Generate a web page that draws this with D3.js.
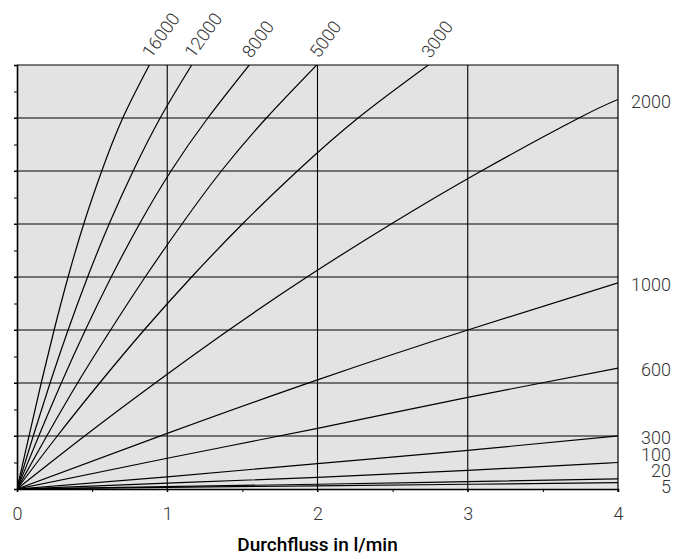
<!DOCTYPE html>
<html>
<head>
<meta charset="utf-8">
<script src="https://cdn.jsdelivr.net/npm/d3@7.9.0/dist/d3.min.js"></script>
<style>
  body { margin: 0; background: #fff; }
  svg { display: block; font-family: Roboto, "Noto Sans", sans-serif; }
</style>
</head>
<body>
<svg id="chart" width="688" height="559"></svg>
<script>
// curve labels (viscosity) and points: [flow l/min, y]
const labels = ['16000', '12000', '8000', '5000', '3000', '2000', '1000', '600', '300', '100', '20', '5'];

const c16000 = [[0, 0], [0.080, 1], [0.161, 2], [0.247, 3], [0.340, 4], [0.444, 5], [0.564, 6], [0.704, 7], [0.881, 8]];
const c12000 = [[0, 0], [0.108, 1], [0.220, 2], [0.340, 3], [0.470, 4], [0.613, 5], [0.773, 6], [0.953, 7], [1.163, 8]];
const c8000 = [[0, 0], [0.145, 1], [0.295, 2], [0.455, 3], [0.627, 4], [0.815, 5], [1.025, 6], [1.270, 7], [1.546, 8]];
const c5000 = [[0, 0], [0.198, 1], [0.403, 2], [0.623, 3], [0.853, 4], [1.098, 5], [1.360, 6], [1.660, 7], [1.995, 8]];
const c3000 = [[0, 0], [0.268, 1], [0.550, 2], [0.846, 3], [1.162, 4], [1.500, 5], [1.866, 6], [2.270, 7], [2.738, 8]];
const c2000 = [[0, 0], [0.45, 1], [0.92, 2], [1.41, 3], [1.93, 4], [2.49, 5], [3.09, 6], [3.74, 7], [4, 7.35]];
const c1000 = [[0, 0], [1, 1.05], [2, 2.06], [3, 3.0], [4, 3.89]];
const c600 = [[0, 0], [1, 0.58], [2, 1.145], [3, 1.73], [4, 2.28]];
const c300 = [[0, 0], [1, 0.23], [2, 0.48], [3, 0.73], [4, 1.0]];
const c100 = [[0, 0], [1, 0.11], [2, 0.22], [3, 0.35], [4, 0.50]];
const c20 = [[0, 0], [2, 0.09], [3, 0.14], [4, 0.19]];
const c5 = [[0, 0], [2, 0.06], [4, 0.12]];

const curves = [c16000, c12000, c8000, c5000, c3000, c2000, c1000, c600, c300, c100, c20, c5];

const xTicks = [0, 1, 2, 3, 4];
const xLabel = 'Durchfluss in l/min';

const width = 688, height = 559;
const plotLeft = 17, plotRight = 618, plotTop = 65, plotBottom = 489;

let x = d3.scaleLinear().domain([0, 4]).range([plotLeft, plotRight]);
let y = d3.scaleLinear().domain([0, 8]).range([plotBottom, plotTop]);

let svg = d3.select('#chart');

svg.append('defs').append('clipPath').attr('id', 'plot')
  .append('rect')
  .attr('x', plotLeft).attr('y', plotTop)
  .attr('width', plotRight - plotLeft).attr('height', plotBottom - plotTop);

// background
svg.append('rect')
  .attr('x', plotLeft).attr('y', plotTop)
  .attr('width', plotRight - plotLeft).attr('height', plotBottom - plotTop)
  .attr('fill', '#e3e3e3');

// grid
svg.append('g').selectAll('line')
  .data(d3.range(1, 8))
  .join('line')
  .attr('x1', plotLeft - 3).attr('x2', plotRight)
  .attr('y1', (d) => y(d)).attr('y2', (d) => y(d))
  .attr('stroke', '#000').attr('stroke-width', 1.1);

svg.append('g').selectAll('line')
  .data([1, 2, 3])
  .join('line')
  .attr('x1', (d) => x(d)).attr('x2', (d) => x(d))
  .attr('y1', plotTop).attr('y2', plotBottom + 3)
  .attr('stroke', '#000').attr('stroke-width', 1.1);

// axes
let yAxis = svg.append('g')
  .attr('transform', `translate(${plotLeft},0)`)
  .call(d3.axisLeft(y).tickValues(d3.range(0, 8.5, 0.5)).tickSize(3).tickFormat(''));
yAxis.select('.domain').attr('stroke-width', 1.6);

let xAxis = svg.append('g')
  .attr('transform', `translate(0,${plotBottom})`)
  .call(d3.axisBottom(x)
    .tickValues(d3.range(0, 4.5, 0.5))
    .tickSize(3)
    .tickPadding(15)
    .tickFormat((d) => (xTicks.includes(d) ? d : '')));
xAxis.select('.domain').attr('stroke-width', 1.6);
xAxis.selectAll('text')
  .attr('font-size', 18).attr('font-weight', 300)
  .attr('font-family', 'Roboto').attr('fill', '#333');

// top and right frame
svg.append('path')
  .attr('d', `M${plotLeft},${plotTop}H${plotRight}V${plotBottom + 3}`)
  .attr('fill', 'none').attr('stroke', '#000').attr('stroke-width', 1.2);

// curves
let line = d3.line()
  .x((d) => x(d[0]))
  .y((d) => y(d[1]))
  .curve(d3.curveNatural);

svg.append('g').attr('clip-path', 'url(#plot)')
  .selectAll('path')
  .data(curves)
  .join('path')
  .attr('d', line)
  .attr('fill', 'none')
  .attr('stroke', '#000')
  .attr('stroke-width', 1.2);

// labels on top (rotated) for curves that leave through the top
curves.forEach((c, i) => {
  let end = c[c.length - 1];
  if (end[1] >= 8) {
    svg.append('text')
      .attr('transform', `translate(${x(end[0]) + 2},${plotTop - 6}) rotate(-54)`)
      .attr('font-size', 18).attr('font-weight', 300)
      .attr('fill', '#333')
      .text(labels[i]);
  }
});

// labels on the right, pushed apart where they crowd
let rightLabels = [];
curves.forEach((c, i) => {
  let end = c[c.length - 1];
  if (end[1] < 8) rightLabels.push({ label: labels[i], y: y(end[1]) + 2 });
});
rightLabels.sort((a, b) => a.y - b.y);
for (let iter = 0; iter < 300; iter++) {
  for (let k = 1; k < rightLabels.length; k++) {
    let a = rightLabels[k - 1], b = rightLabels[k];
    let gap = b.y - a.y;
    if (gap < 16) {
      let push = (16 - gap) / 2;
      a.y -= push;
      b.y += push;
    }
  }
  rightLabels.forEach((d) => { d.y = Math.min(d.y, plotBottom - 2); });
}

svg.append('g').selectAll('text')
  .data(rightLabels)
  .join('text')
  .attr('x', 671)
  .attr('y', (d) => d.y)
  .attr('dy', '0.35em')
  .attr('text-anchor', 'end')
  .attr('font-size', 18).attr('font-weight', 300)
  .attr('fill', '#333')
  .text((d) => d.label);

// x axis title
svg.append('text')
  .attr('x', x(2))
  .attr('y', 551)
  .attr('text-anchor', 'middle')
  .attr('font-size', 19).attr('font-weight', 500)
  .attr('fill', '#000')
  .text(xLabel);
</script>
</body>
</html>
